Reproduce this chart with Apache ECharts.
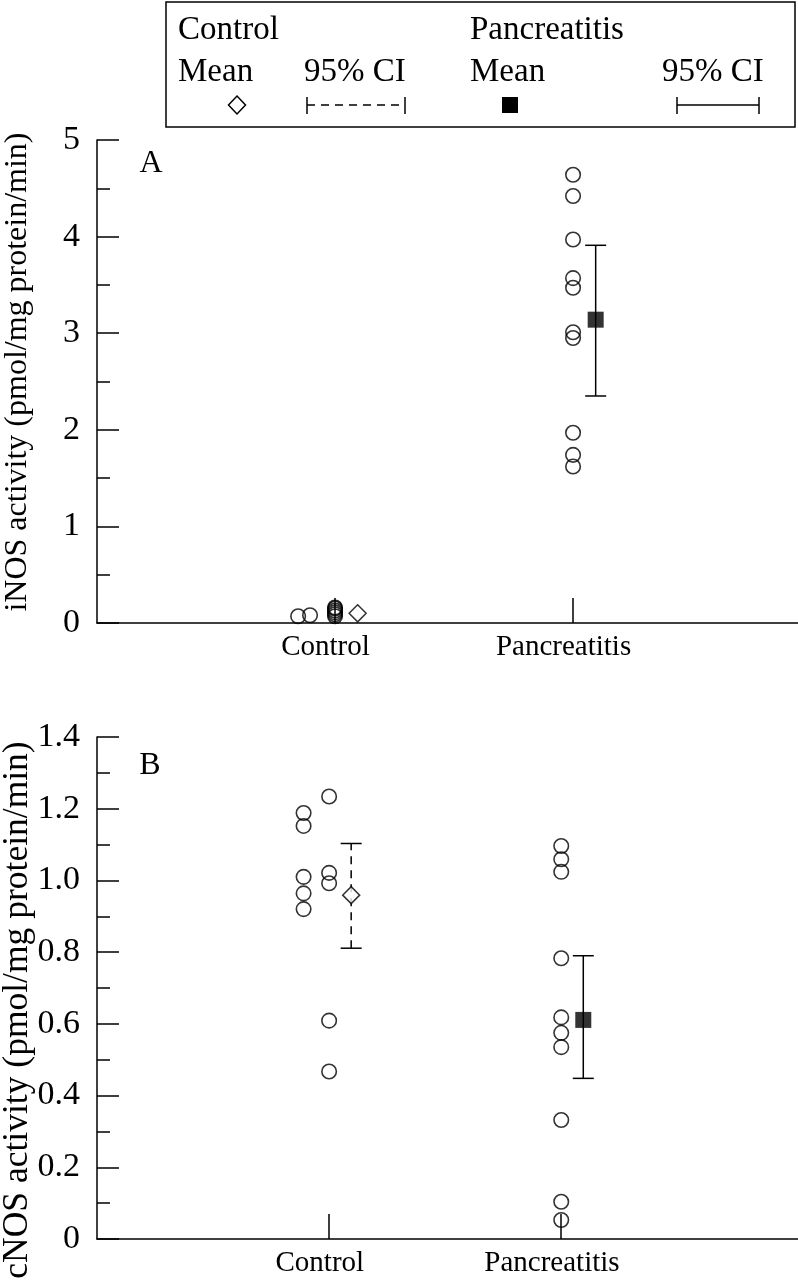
<!DOCTYPE html>
<html>
<head>
<meta charset="utf-8">
<script src="https://cdn.jsdelivr.net/npm/echarts@6/dist/echarts.min.js"></script>
<style>html,body{margin:0;padding:0;background:#fff}#c{width:798px;height:1280px}</style>
</head>
<body>
<div id="c"></div>
<script>
// ---------- data ----------
const categories = ['Control', 'Pancreatitis'];

// Panel A: iNOS activity
const inosControl = [0.07, 0.08, 0.07, 0.09, 0.11, 0.13, 0.15, 0.16];
const inosControlCol = [-0.155, -0.105, 0, 0, 0, 0, 0, 0];
const inosPanc = [4.64, 4.42, 3.97, 3.57, 3.47, 3.01, 2.95, 1.97, 1.74, 1.62];
const inosMean = [0.10, 3.14];
const inosCiLow = [null, 2.35];
const inosCiHigh = [null, 3.91];
const inosTicks = [0, 1, 2, 3, 4, 5];

// Panel B: cNOS activity
const cnosControl = [1.188, 1.152, 1.010, 0.964, 0.920, 1.234, 1.021, 0.992, 0.609, 0.467];
const cnosControlCol = [-0.11, -0.11, -0.11, -0.11, -0.11, 0, 0, 0, 0, 0];
const cnosPanc = [1.096, 1.059, 1.024, 0.783, 0.618, 0.575, 0.535, 0.332, 0.104, 0.053];
const cnosMean = [0.959, 0.611];
const cnosCiLow = [0.811, 0.448];
const cnosCiHigh = [1.103, 0.790];
const cnosTicks = [0, 0.2, 0.4, 0.6, 0.8, 1.0, 1.2, 1.4];

const meanOffset = 0.095;

// ---------- chart ----------
const FONT = "'Liberation Serif', 'DejaVu Serif', serif";
const BLACK = '#000';
const LABEL_SHIFT = -0.04;

function pts(vals, cols, center) {
  return vals.map((v, i) => [center + (cols ? cols[i] : 0), v]);
}

function xAxisCfg(gi, max) {
  return {
    gridIndex: gi, type: 'value', min: 0, max: max,
    axisLine: {onZero: false, lineStyle: {color: BLACK, width: 1.5}},
    splitLine: {show: false},
    axisTick: {inside: true, length: 25, customValues: [1, 2], lineStyle: {color: BLACK, width: 1.5}},
    axisLabel: {customValues: [1 + LABEL_SHIFT, 2 + LABEL_SHIFT],
      formatter: v => categories[Math.round(v) - 1] || '',
      fontSize: 29, fontFamily: FONT, color: BLACK, margin: 10}
  };
}
function yAxisCfg(gi, ticks, fmt) {
  return {
    gridIndex: gi, type: 'value', min: ticks[0], max: ticks[ticks.length - 1],
    interval: ticks[1] - ticks[0],
    axisLine: {show: true, lineStyle: {color: BLACK, width: 1.5}},
    splitLine: {show: false},
    axisTick: {inside: true, length: 22, lineStyle: {color: BLACK, width: 1.5}},
    minorTick: {show: true, splitNumber: 2, length: 13, lineStyle: {color: BLACK, width: 1.5}},
    minorSplitLine: {show: false},
    axisLabel: {formatter: fmt, fontSize: 34, fontFamily: FONT, color: BLACK, margin: 17}
  };
}

function errData(lo, hi) {
  const d = [];
  lo.forEach((l, i) => { if (l != null) d.push([i + 1 + meanOffset, l, hi[i], i]); });
  return d;
}
function errSeries(xi, lo, hi) {
  return {
    type: 'custom', xAxisIndex: xi, yAxisIndex: xi, z: 2, clip: false,
    data: errData(lo, hi),
    encode: {x: 0, y: [1, 2]},
    renderItem: function (params, api) {
      const x = api.value(0);
      const pLo = api.coord([x, api.value(1)]);
      const pHi = api.coord([x, api.value(2)]);
      const dashed = api.value(3) === 0;
      const hw = 10.5;
      const st = {stroke: BLACK, lineWidth: 1.5, fill: null};
      return {
        type: 'group',
        children: [
          {type: 'line', shape: {x1: pLo[0], y1: pLo[1], x2: pHi[0], y2: pHi[1]},
            style: Object.assign({}, st, dashed ? {lineDash: [8, 6]} : {})},
          {type: 'line', shape: {x1: pHi[0] - hw, y1: pHi[1], x2: pHi[0] + hw, y2: pHi[1]}, style: st},
          {type: 'line', shape: {x1: pLo[0] - hw, y1: pLo[1], x2: pLo[0] + hw, y2: pLo[1]}, style: st}
        ]
      };
    }
  };
}
function circles(xi, data) {
  return {
    type: 'scatter', xAxisIndex: xi, yAxisIndex: xi, clip: false, z: 3,
    symbol: 'circle', symbolSize: 14.5, data: data,
    itemStyle: {color: 'rgba(0,0,0,0)', borderColor: BLACK, borderWidth: 1.6},
    emphasis: {disabled: true}
  };
}
function meanSeries(xi, means) {
  return [
    {type: 'scatter', xAxisIndex: xi, yAxisIndex: xi, clip: false, z: 4,
      symbol: 'diamond', symbolSize: 17, data: [[1 + meanOffset, means[0]]],
      itemStyle: {color: '#fff', borderColor: BLACK, borderWidth: 1.5}},
    {type: 'scatter', xAxisIndex: xi, yAxisIndex: xi, clip: false, z: 4,
      symbol: 'rect', symbolSize: 16, data: [[2 + meanOffset, means[1]]],
      itemStyle: {color: BLACK}}
  ];
}

const legendText = (text, x, y) => ({type: 'text', x: x, y: y,
  style: {text: text, font: '33px ' + FONT, fill: BLACK, align: 'left', verticalAlign: 'middle'}});
const ln = (x1, y1, x2, y2, dash) => ({type: 'line', shape: {x1, y1, x2, y2},
  style: {stroke: BLACK, lineWidth: 1.5, lineDash: dash || null}});

const option = {
  animation: false,
  backgroundColor: '#fff',
  grid: [
    {left: 97, top: 140, width: 701, height: 483},
    {left: 97, top: 737, width: 701, height: 502}
  ],
  xAxis: [xAxisCfg(0, 2.945), xAxisCfg(1, 3.02)],
  yAxis: [
    yAxisCfg(0, inosTicks, v => String(Math.round(v))),
    yAxisCfg(1, cnosTicks, v => (Math.abs(v) < 1e-9 ? '0' : v.toFixed(1)))
  ],
  series: [
    errSeries(0, inosCiLow, inosCiHigh),
    errSeries(1, cnosCiLow, cnosCiHigh),
    circles(0, pts(inosControl, inosControlCol, 1).concat(pts(inosPanc, null, 2))),
    circles(1, pts(cnosControl, cnosControlCol, 1).concat(pts(cnosPanc, null, 2))),
    ...meanSeries(0, inosMean),
    ...meanSeries(1, cnosMean)
  ],
  graphic: [
    {type: 'rect', shape: {x: 166, y: 2, width: 629, height: 125},
      style: {stroke: BLACK, lineWidth: 1.5, fill: null}},
    legendText('Control', 178, 30),
    legendText('Mean', 178, 72),
    legendText('95% CI', 304, 72),
    legendText('Pancreatitis', 470, 30),
    legendText('Mean', 470, 72),
    legendText('95% CI', 662, 72),
    {type: 'polygon', shape: {points: [[237, 96], [245.5, 105], [237, 114], [228.5, 105]]},
      style: {stroke: BLACK, lineWidth: 1.5, fill: '#fff'}},
    ln(307, 105, 405, 105, [8, 6]), ln(307, 97, 307, 114), ln(405, 97, 405, 114),
    {type: 'rect', shape: {x: 502, y: 97, width: 16, height: 16}, style: {fill: BLACK}},
    ln(677, 105, 759, 105), ln(677, 97, 677, 114), ln(759, 97, 759, 114),
    {type: 'text', x: 151, y: 164,
      style: {text: 'A', font: '32px ' + FONT, fill: BLACK, align: 'center', verticalAlign: 'middle'}},
    {type: 'text', x: 150, y: 766,
      style: {text: 'B', font: '32px ' + FONT, fill: BLACK, align: 'center', verticalAlign: 'middle'}},
    {type: 'text', x: 18, y: 372, rotation: Math.PI / 2,
      style: {text: 'iNOS activity (pmol/mg protein/min)', font: '32px ' + FONT, fill: BLACK,
        align: 'center', verticalAlign: 'middle'}},
    {type: 'text', x: 18, y: 1010, rotation: Math.PI / 2,
      style: {text: 'cNOS activity (pmol/mg protein/min)', font: '35.5px ' + FONT, fill: BLACK,
        align: 'center', verticalAlign: 'middle'}}
  ]
};

const chart = echarts.init(document.getElementById('c'), null, {renderer: 'canvas'});
chart.setOption(option);
</script>
</body>
</html>
